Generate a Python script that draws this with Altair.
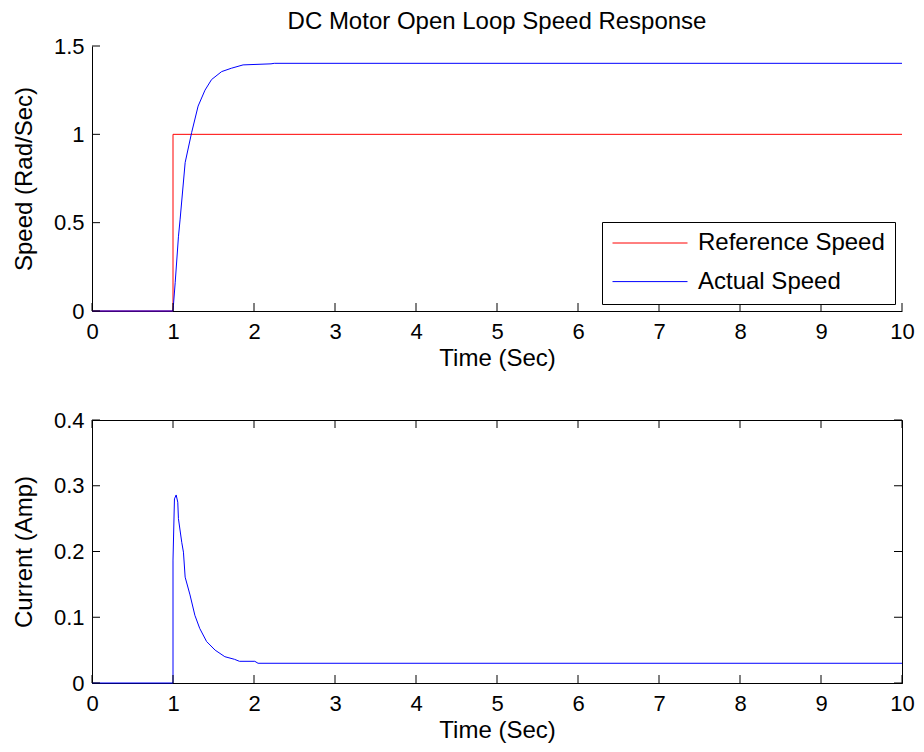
import altair as alt
import pandas as pd

# ---- data ----
time_ref = [0, 1, 1, 10]
speed_ref = [0, 0, 1, 1]

time_act = [0, 1.0, 1.005, 1.027, 1.067, 1.088, 1.15, 1.23, 1.31, 1.395, 1.476,
            1.60, 1.72, 1.865, 2.21, 2.25, 10]
speed_act = [0, 0, 0.03, 0.16, 0.42, 0.52, 0.84, 1.01, 1.16, 1.25, 1.31,
             1.355, 1.374, 1.393, 1.399, 1.402, 1.402]

time_cur = [0, 1.0, 1.0, 1.018, 1.039, 1.059, 1.067, 1.108, 1.129, 1.15, 1.21,
            1.27, 1.33, 1.415, 1.52, 1.64, 1.76, 1.82, 2.01, 2.05, 10]
current = [0, 0, 0.187, 0.28, 0.286, 0.275, 0.25, 0.214, 0.199, 0.161, 0.134,
           0.103, 0.083, 0.063, 0.050, 0.040, 0.036, 0.033, 0.033, 0.030, 0.030]

x_ticks = [0, 1, 2, 3, 4, 5, 6, 7, 8, 9, 10]
speed_ticks = [0, 0.5, 1, 1.5]
current_ticks = [0, 0.1, 0.2, 0.3, 0.4]

series_names = ["Reference Speed", "Actual Speed"]
series_colors = ["#ff0000", "#0000ff"]

FONT = "Liberation Sans"
W = 810
H1 = 265
H2 = 263
TL = 8  # inward tick length

ref_df = pd.DataFrame({"time": time_ref, "speed": speed_ref,
                       "series": series_names[0], "i": range(len(time_ref))})
act_df = pd.DataFrame({"time": time_act, "speed": speed_act,
                       "series": series_names[1], "i": range(len(time_act))})
cur_df = pd.DataFrame({"time": time_cur, "current": current, "i": range(len(time_cur))})
xt_df = pd.DataFrame({"time": x_ticks})
st_df = pd.DataFrame({"speed": speed_ticks})
ct_df = pd.DataFrame({"current": current_ticks})

axis_common = dict(
    grid=False, ticks=False, domainColor="black", domainWidth=1,
    labelColor="black", labelFont=FONT, labelFontSize=22, labelFlush=False,
    labelOverlap=False, titleColor="black", titleFont=FONT, titleFontSize=24,
    titleFontWeight="normal",
)

x_axis = alt.Axis(values=x_ticks, format="d", labelPadding=10, titlePadding=4,
                  title="Time (Sec)", **axis_common)
x_scale = alt.Scale(domain=[0, 10], nice=False, zero=False)

speed_scale = alt.Scale(domain=[0, 1.5], nice=False)
cur_scale = alt.Scale(domain=[0, 0.4], nice=False)

color_enc = alt.Color(
    "series:N",
    scale=alt.Scale(domain=series_names, range=series_colors),
    legend=alt.Legend(
        title=None, orient="none", legendX=510, legendY=176,
        fillColor="white", strokeColor="black", padding=10,
        symbolType="stroke", symbolSize=5625, symbolStrokeWidth=1,
        labelFont=FONT, labelFontSize=24, labelColor="black", labelOffset=10,
        labelLimit=400, clipHeight=22, rowPadding=14.6, cornerRadius=0,
    ),
)

ref_line = alt.Chart(ref_df).mark_line(strokeWidth=1).encode(
    x=alt.X("time:Q", scale=x_scale, axis=x_axis),
    y=alt.Y("speed:Q", scale=speed_scale,
            axis=alt.Axis(values=speed_ticks, labelExpr="format(datum.value, '~g')",
                          labelPadding=8, titlePadding=17,
                          title="Speed (Rad/Sec)", **axis_common)),
    color=color_enc,
    order="i:Q",
)
act_line = alt.Chart(act_df).mark_line(strokeWidth=1).encode(
    x=alt.X("time:Q", scale=x_scale),
    y=alt.Y("speed:Q", scale=speed_scale),
    color=color_enc,
    order="i:Q",
)
top_xt = alt.Chart(xt_df).mark_rule(color="black", strokeWidth=1).encode(
    x=alt.X("time:Q", scale=x_scale), y=alt.value(H1), y2=alt.value(H1 - TL))
top_yt = alt.Chart(st_df).mark_rule(color="black", strokeWidth=1).encode(
    y=alt.Y("speed:Q", scale=speed_scale), x=alt.value(0), x2=alt.value(TL))

top = alt.layer(ref_line, act_line, top_xt, top_yt).properties(
    width=W, height=H1,
    title=alt.TitleParams("DC Motor Open Loop Speed Response", font=FONT,
                          fontSize=24, fontWeight="normal", color="black",
                          anchor="middle", frame="group", baseline="alphabetic",
                          offset=-18),
)

cur_line = alt.Chart(cur_df).mark_line(strokeWidth=1, color="#0000ff").encode(
    x=alt.X("time:Q", scale=x_scale, axis=x_axis),
    y=alt.Y("current:Q", scale=cur_scale,
            axis=alt.Axis(values=current_ticks, labelExpr="format(datum.value, '~g')",
                          labelPadding=8, titlePadding=17,
                          title="Current (Amp)", **axis_common)),
    order="i:Q",
)
b_xt_bot = alt.Chart(xt_df).mark_rule(color="black", strokeWidth=1).encode(
    x=alt.X("time:Q", scale=x_scale), y=alt.value(H2), y2=alt.value(H2 - TL))
b_xt_top = alt.Chart(xt_df).mark_rule(color="black", strokeWidth=1).encode(
    x=alt.X("time:Q", scale=x_scale), y=alt.value(0), y2=alt.value(TL))
b_yt_left = alt.Chart(ct_df).mark_rule(color="black", strokeWidth=1).encode(
    y=alt.Y("current:Q", scale=cur_scale), x=alt.value(0), x2=alt.value(TL))
b_yt_right = alt.Chart(ct_df).mark_rule(color="black", strokeWidth=1).encode(
    y=alt.Y("current:Q", scale=cur_scale), x=alt.value(W), x2=alt.value(W - TL))

bottom = alt.layer(cur_line, b_xt_bot, b_xt_top, b_yt_left, b_yt_right).properties(
    width=W, height=H2,
    view=alt.ViewBackground(stroke="black", strokeWidth=1),
)

chart = alt.vconcat(top, bottom, spacing=109, bounds="flush").resolve_scale(
    color="independent"
).configure_view(stroke=None).properties(
    background="white", padding={"left": 3, "top": 2, "right": 0, "bottom": 0}
)

chart.save("out.html", embed_options={"renderer": "svg", "actions": False})
